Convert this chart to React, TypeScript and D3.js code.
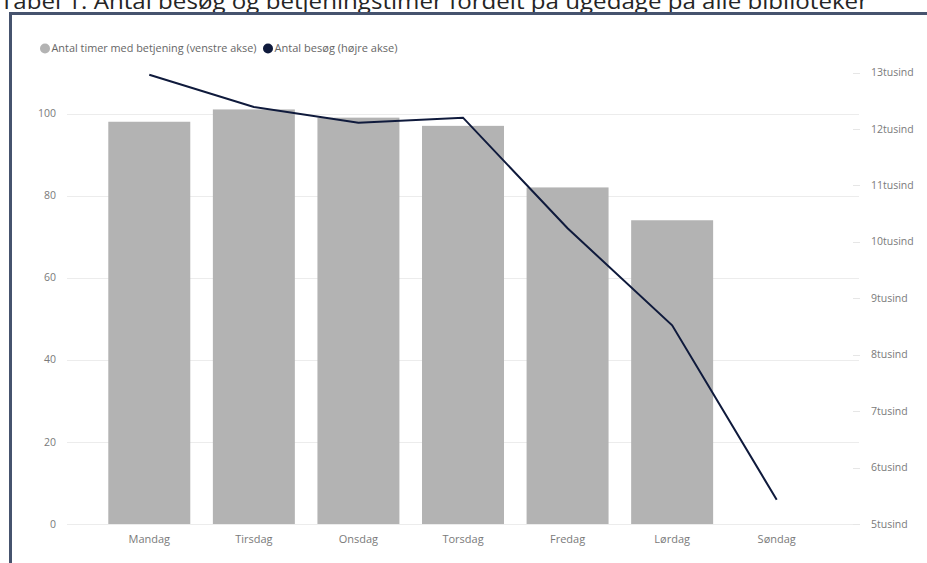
import React, { useEffect, useRef } from "react";
import * as d3 from "d3";

const days = ["Mandag", "Tirsdag", "Onsdag", "Torsdag", "Fredag", "Lørdag", "Søndag"];
const hours = [98, 101, 99, 97, 82, 74, 0];
const visits = [12960, 12390, 12110, 12200, 10240, 8520, 5430];
const leftTicks = [0, 20, 40, 60, 80, 100];
const rightTicks = [5000, 6000, 7000, 8000, 9000, 10000, 11000, 12000, 13000];
const title = "Tabel 1. Antal besøg og betjeningstimer fordelt på ugedage på alle biblioteker";
const legendItems = ["Antal timer med betjening (venstre akse)", "Antal besøg (højre akse)"];

const W = 927;
const H = 563;
const FONT = "'Open Sans', 'Noto Sans', sans-serif";

export default function App() {
  const ref = useRef<SVGSVGElement | null>(null);

  useEffect(() => {
    const svg = d3.select(ref.current);
    svg.selectAll("*").remove();

    const top = 72.5;
    const bottom = 524;
    const x = d3.scaleBand<string>().domain(days).range([97, 829]).paddingInner(0.216).paddingOuter(0.108);
    const yL = d3.scaleLinear().domain([0, 110]).range([bottom, top]);
    const yR = d3.scaleLinear().domain([5000, 13000]).range([bottom, top]);

    svg.append("rect").attr("width", W).attr("height", H).attr("fill", "#ffffff");

    // title (clipped at top)
    svg.append("text")
      .attr("x", 0).attr("y", 9)
      .attr("font-family", FONT)
      .attr("font-size", 21)
      .attr("fill", "#252525")
      .attr("textLength", 868)
      .attr("lengthAdjust", "spacingAndGlyphs")
      .text(title);

    // frame
    svg.append("rect").attr("x", 9).attr("y", 12).attr("width", W - 9).attr("height", 3).attr("fill", "#46536e");
    svg.append("rect").attr("x", 9).attr("y", 12).attr("width", 3).attr("height", H - 12).attr("fill", "#46536e");

    const g = svg.append("g");
    // gridlines
    g.selectAll("line.grid").data(leftTicks).join("line")
      .attr("x1", 67).attr("x2", 859)
      .attr("y1", (d) => Math.round(yL(d)) + 0.5).attr("y2", (d) => Math.round(yL(d)) + 0.5)
      .attr("stroke", "#ececec").attr("stroke-width", 1);

    // left labels
    g.selectAll("text.left").data(leftTicks).join("text")
      .attr("x", 56).attr("y", (d) => yL(d)).attr("dy", "0.35em")
      .attr("text-anchor", "end")
      .attr("font-family", FONT).attr("font-size", 10.5).attr("fill", "#7a7a7a")
      .text((d) => String(d));

    // right tick dashes and labels
    g.selectAll("line.rt").data(rightTicks).join("line")
      .attr("x1", 853).attr("x2", 860)
      .attr("y1", (d) => Math.round(yR(d)) + 0.5).attr("y2", (d) => Math.round(yR(d)) + 0.5)
      .attr("stroke", "#e6e6e6");
    g.selectAll("text.right").data(rightTicks).join("text")
      .attr("x", 871).attr("y", (d) => yR(d)).attr("dy", "0.35em")
      .attr("font-family", FONT).attr("font-size", 10.5).attr("fill", "#7a7a7a")
      .text((d) => `${d / 1000}tusind`);

    // bars
    g.selectAll("rect.bar").data(days).join("rect")
      .attr("x", (d) => x(d)!)
      .attr("width", x.bandwidth())
      .attr("y", (d, i) => yL(hours[i]))
      .attr("height", (d, i) => bottom - yL(hours[i]))
      .attr("fill", "#b3b3b3");

    // line
    const line = d3.line<number>()
      .x((d, i) => x(days[i])! + x.bandwidth() / 2)
      .y((d) => yR(d));
    g.append("path").datum(visits)
      .attr("d", line)
      .attr("fill", "none").attr("stroke", "#0f1a3c").attr("stroke-width", 2);

    // x labels
    g.selectAll("text.xl").data(days).join("text")
      .attr("x", (d) => x(d)! + x.bandwidth() / 2).attr("y", 539).attr("dy", "0.35em")
      .attr("text-anchor", "middle")
      .attr("font-family", FONT).attr("font-size", 11).attr("fill", "#7a7a7a")
      .text((d) => d);

    // legend
    const lg = svg.append("g");
    const colors = ["#b3b3b3", "#0f1a3c"];
    const lx = [45, 268];
    const lw = [205, 123];
    legendItems.forEach((t, i) => {
      lg.append("circle").attr("cx", lx[i]).attr("cy", 48.5).attr("r", 5).attr("fill", colors[i]);
      lg.append("text").attr("x", lx[i] + 6.5).attr("y", 48.5).attr("dy", "0.35em")
        .attr("font-family", FONT).attr("font-size", 10.5).attr("fill", "#666")
        .attr("textLength", lw[i]).attr("lengthAdjust", "spacingAndGlyphs")
        .text(t);
    });
  }, []);

  return (
    <div style={{ position: "fixed", left: 0, top: 0, width: W, height: H }}>
      <svg ref={ref} width={W} height={H} style={{ display: "block" }} />
    </div>
  );
}
